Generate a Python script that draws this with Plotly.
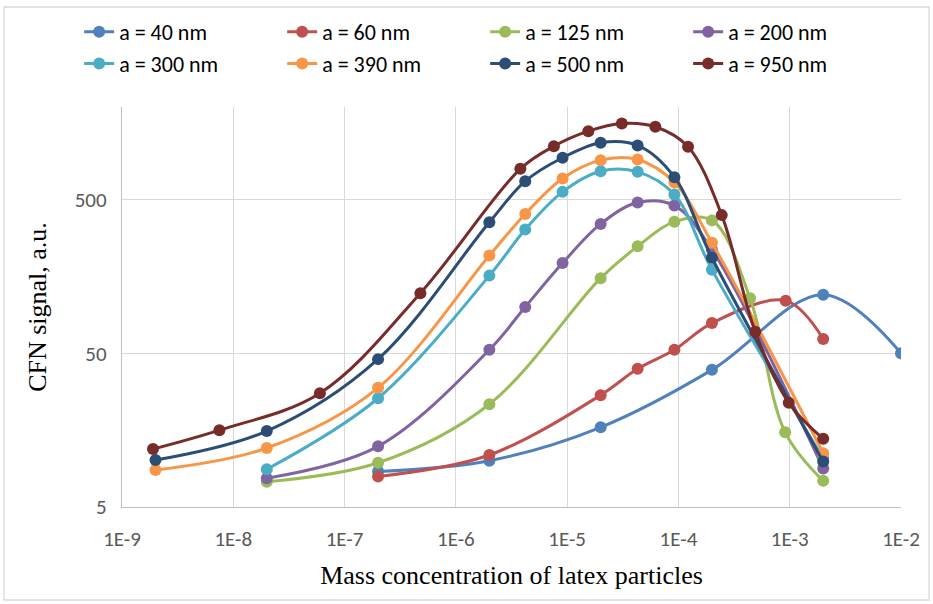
import plotly.graph_objects as go
import math

# ---------------- data ----------------
series_names = ["a = 40 nm", "a = 60 nm", "a = 125 nm", "a = 200 nm",
                "a = 300 nm", "a = 390 nm", "a = 500 nm", "a = 950 nm"]
colors = ["#4F81BD", "#C0504D", "#9BBB59", "#8064A2",
          "#4BACC6", "#F79646", "#2C4D75", "#772C2A"]

x_40 = [2e-7, 2e-6, 2e-5, 2e-4, 2e-3, 1e-2]
y_40 = [8.5, 10.0, 16.5, 39, 120, 50]

x_60 = [2e-7, 2e-6, 2e-5, 4.3e-5, 9.2e-5, 2e-4, 9.2e-4, 2e-3]
y_60 = [7.9, 10.9, 26.7, 39.6, 52.7, 78.6, 110, 62]

x_125 = [2e-8, 2e-7, 2e-6, 2e-5, 4.3e-5, 9.2e-5, 2e-4, 4.4e-4, 9.1e-4, 2e-3]
y_125 = [7.3, 9.7, 23.3, 154, 248, 359, 366, 114, 15.3, 7.4]

x_200 = [2e-8, 2e-7, 2e-6, 4.2e-6, 9.1e-6, 2e-5, 4.3e-5, 9.2e-5, 2e-4, 2e-3]
y_200 = [7.7, 12.4, 52.7, 100, 193, 347, 478, 457, 236, 8.9]

x_300 = [2e-8, 2e-7, 2e-6, 4.2e-6, 9.1e-6, 2e-5, 4.3e-5, 9.2e-5, 2e-4, 2e-3]
y_300 = [8.8, 25.5, 160, 319, 561, 764, 757, 539, 175, 10.4]

x_390 = [2e-9, 2e-8, 2e-7, 2e-6, 4.2e-6, 9.1e-6, 2e-5, 4.3e-5, 9.2e-5, 2e-4, 2e-3]
y_390 = [8.7, 12.1, 29.8, 216, 403, 685, 902, 911, 645, 262, 11.2]

x_500 = [2e-9, 2e-8, 2e-7, 2e-6, 4.2e-6, 9.1e-6, 2e-5, 4.3e-5, 9.2e-5, 2e-4, 2e-3]
y_500 = [10.1, 15.6, 45.8, 356, 658, 935, 1170, 1124, 699, 209, 9.9]

x_950 = [1.9e-9, 7.5e-9, 6.0e-8, 4.8e-7, 3.8e-6, 7.6e-6, 1.55e-5, 3.1e-5,
         6.2e-5, 1.22e-4, 2.45e-4, 4.9e-4, 9.8e-4, 2e-3]
y_950 = [11.9, 15.8, 27.5, 123, 792, 1112, 1393, 1564, 1488, 1102, 396, 69, 23.8, 13.9]

xs = [x_40, x_60, x_125, x_200, x_300, x_390, x_500, x_950]
ys = [y_40, y_60, y_125, y_200, y_300, y_390, y_500, y_950]

x_tickvals = [1e-9, 1e-8, 1e-7, 1e-6, 1e-5, 1e-4, 1e-3, 1e-2]
x_ticktext = ["1E-9", "1E-8", "1E-7", "1E-6", "1E-5", "1E-4", "1E-3", "1E-2"]
y_tickvals = [5, 50, 500]
y_ticktext = ["5", "50", "500"]
y_min, y_max = 5, 2000

x_title = "Mass concentration of latex particles"
y_title = "CFN signal, a.u."

# ---------------- figure ----------------
W, H = 933, 604
ML, MR, MT, MB = 122, 32, 107, 97
pw, ph = W - ML - MR, H - MT - MB

SANS = "Calibri, Carlito, 'Liberation Sans', Arial, sans-serif"
SERIF = "'Times New Roman', 'Liberation Serif', serif"

fig = go.Figure()
for name, c, xv, yv in zip(series_names, colors, xs, ys):
    fig.add_trace(go.Scatter(
        x=xv, y=yv, name=name, mode="lines+markers",
        line=dict(color=c, width=3, shape="spline", smoothing=1.0),
        marker=dict(color=c, size=12, symbol="circle"),
    ))

fig.update_layout(
    width=W, height=H,
    margin=dict(l=ML, r=MR, t=MT, b=MB, autoexpand=False),
    paper_bgcolor="white", plot_bgcolor="white",
    showlegend=True,
    legend=dict(
        orientation="h",
        x=-0.055, xanchor="left",
        y=1.24, yanchor="top",
        entrywidth=158, entrywidthmode="pixels",
        font=dict(family=SANS, size=22, color="#000000"),
        bgcolor="rgba(0,0,0,0)",
        itemclick=False,
    ),
    xaxis=dict(
        type="log", range=[-9, -2],
        tickvals=x_tickvals, ticktext=x_ticktext,
        showgrid=True, gridcolor="#D9D9D9", gridwidth=1.3,
        showline=True, linecolor="#BFBFBF", linewidth=1.3,
        ticks="", ticklabelstandoff=13,
        tickfont=dict(family=SANS, size=21, color="#595959"),
        zeroline=False,
        title=dict(text=x_title, font=dict(family=SERIF, size=26, color="#000000"),
                   standoff=14),
    ),
    yaxis=dict(
        type="log", range=[math.log10(y_min), math.log10(y_max)],
        tickvals=y_tickvals, ticktext=y_ticktext,
        showgrid=True, gridcolor="#D9D9D9", gridwidth=1.3,
        showline=True, linecolor="#BFBFBF", linewidth=1.3,
        ticks="", ticklabelstandoff=10,
        tickfont=dict(family=SANS, size=21, color="#595959"),
        zeroline=False,
        title=dict(text=y_title, font=dict(family=SERIF, size=26, color="#000000"),
                   standoff=20),
    ),
)

# outer chart border (Excel chart area)
bx0, bx1, by0, by1 = 4, 929, 7, 600
fig.add_shape(type="rect", xref="paper", yref="paper",
              x0=(bx0 - ML) / pw, x1=(bx1 - ML) / pw,
              y0=(H - MB - by1) / ph, y1=(H - MB - by0) / ph,
              line=dict(color="#D9D9D9", width=1.3), layer="below")

fig.write_html("out.html")
